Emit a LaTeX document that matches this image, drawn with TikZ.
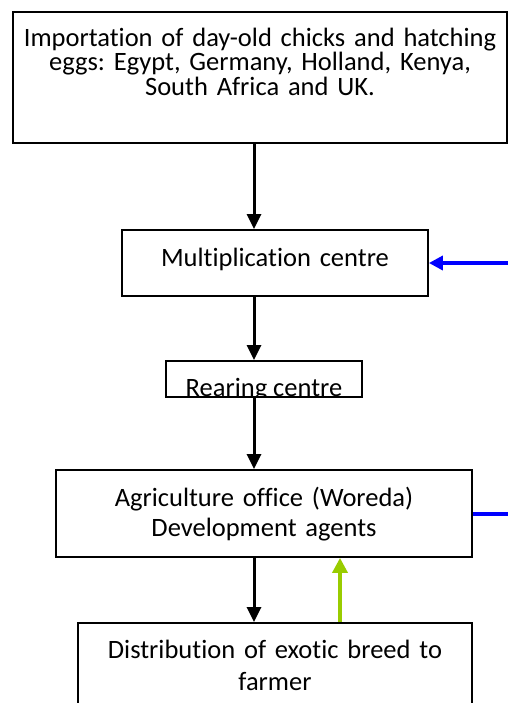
\documentclass[tikz,border=0pt]{standalone}
\usepackage{fontspec}
\setmainfont{Carlito}[RawFeature={-liga;-clig;-calt;-dlig}]
\usepackage{xcolor}
\usepackage{tikz}
\usetikzlibrary{arrows.meta}
\frenchspacing

\definecolor{feedblue}{RGB}{0,0,255}
\definecolor{backgreen}{RGB}{153,204,0}

\begin{document}
\begin{tikzpicture}[
    x=0.5pt, y=-0.5pt,
    font=\fontsize{13.25pt}{12.25pt}\selectfont,
    box/.style={draw=black, line width=0.9pt, inner sep=0pt, align=center, fill=white},
    flow/.style={-{Triangle[length=7.5pt,width=7pt]}, line width=1.5pt},
    feed/.style={-{Triangle[length=7pt,width=7pt]}, line width=2pt, draw=feedblue},
    feedline/.style={line width=2pt, draw=feedblue},
    back/.style={-{Triangle[length=7.5pt,width=7.5pt]}, line width=1.75pt, draw=backgreen}
]
\clip (0,0) rectangle (508,703);

\node[box, text width=247pt, text height=17pt, text depth=48.5pt] (import) at (260,77.5) {Importation of day-old chicks and hatching\\
eggs: Egypt, Germany, Holland, Kenya,\\
South Africa and UK.};

\node[box, text width=153pt, text height=18pt, text depth=15pt] (mult) at (275,263) {Multiplication centre};

\node[box, text width=98pt, text height=17.5pt, text depth=0.5pt] (rear) at (264,379) {\phantom{Rearing centre}};
\begin{scope}
\clip (rear.north west) rectangle ([yshift=1.25pt]rear.south east);
\node[anchor=base, inner sep=0pt] (reartext) at (rear.base) {Rearing centre};
\end{scope}

\node[box, text width=208pt, text height=18pt, text depth=25.5pt, font=\fontsize{13.25pt}{15pt}\selectfont] (agri) at (264,513.5) {Agriculture office (Woreda)\\
Development agents};

\node[box, text width=197pt, text height=17.5pt, text depth=25pt, font=\fontsize{13.25pt}{16pt}\selectfont] (dist) at (275,665.5) {Distribution of exotic breed to\\
farmer};

\coordinate (spine) at (254,0);
\coordinate (greenx) at (340,0);
\coordinate (bluein) at (512,263);
\coordinate (blueout) at (512,513.5);

\draw[flow] (import.south -| spine) -- (mult.north -| spine);
\draw[flow] (mult.south -| spine) -- (rear.north -| spine);
\draw[flow] (rear.south -| spine) -- (agri.north -| spine);
\draw[flow] (agri.south -| spine) -- (dist.north -| spine);
\draw[back] (dist.north -| greenx) -- (agri.south -| greenx);
\draw[feed] (bluein) -- (mult.east);
\draw[feedline] (agri.east) -- (blueout);
\end{tikzpicture}
\end{document}
